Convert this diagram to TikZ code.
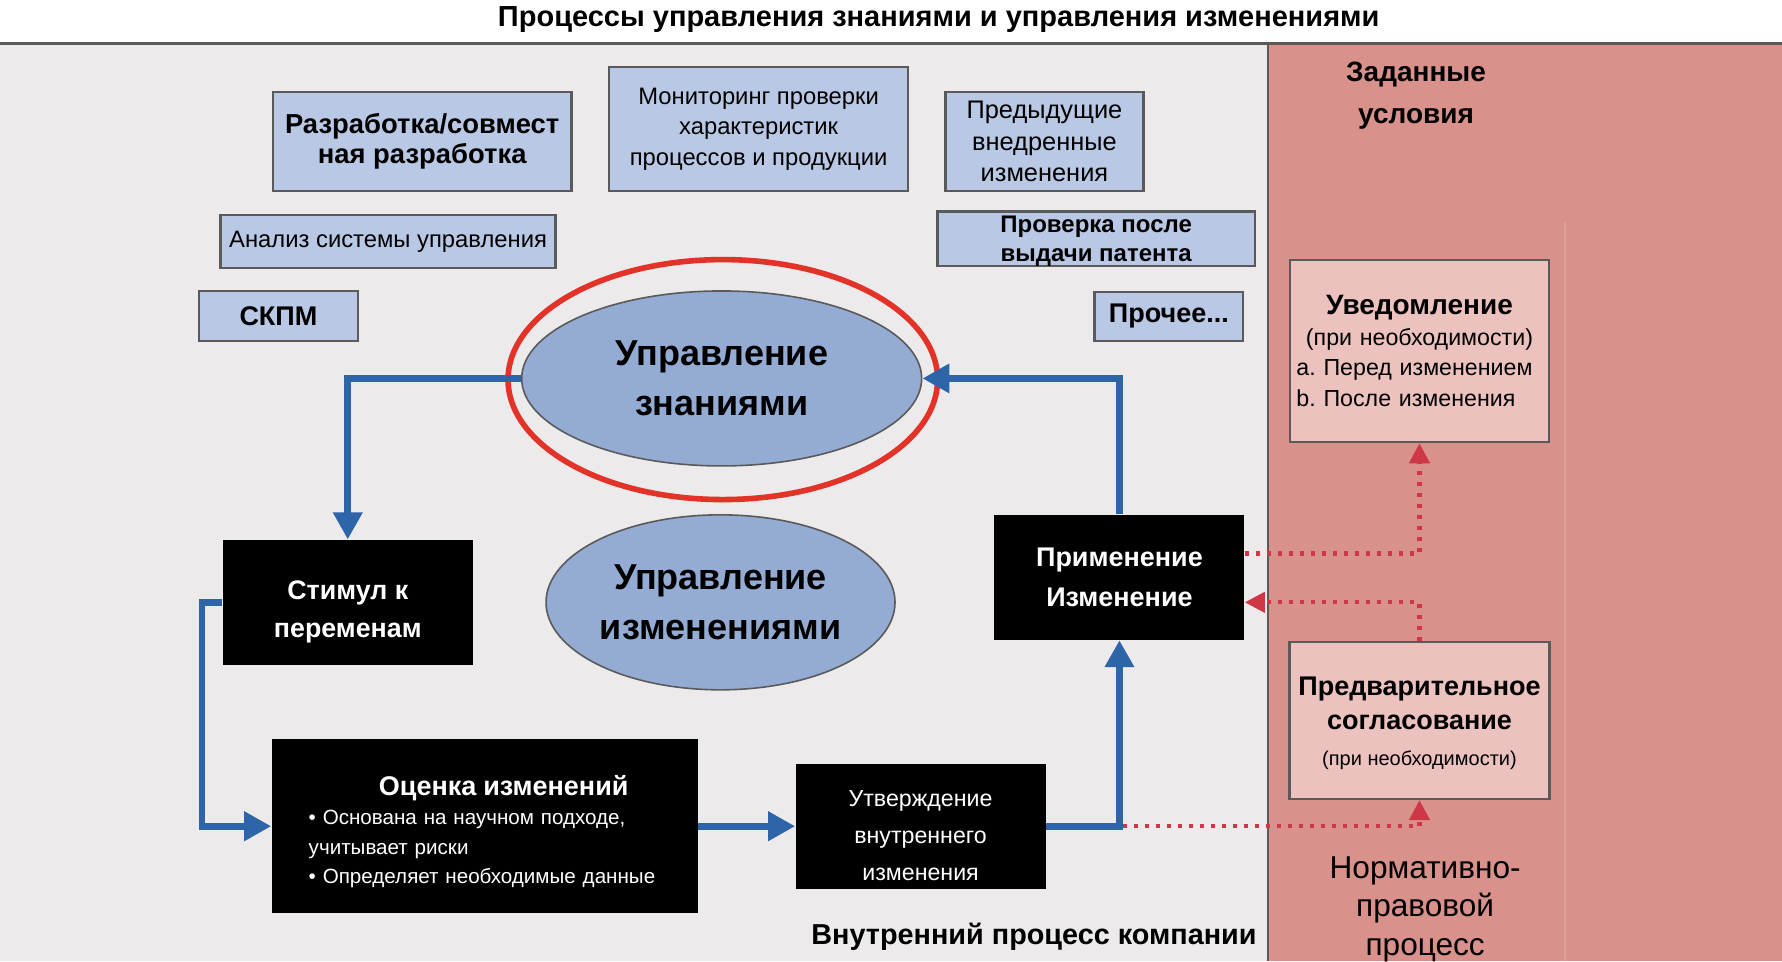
\documentclass[tikz,border=0pt]{standalone}
\usepackage{fontspec}
\setmainfont{Liberation Sans}
\usepackage{xcolor}
\usepackage{tikz}
\usetikzlibrary{shapes.geometric, arrows.meta, positioning, calc}
\definecolor{panelgrey}{RGB}{236,234,235}
\definecolor{panelpink}{RGB}{217,145,139}
\definecolor{boxblue}{RGB}{185,200,228}
\definecolor{ellblue}{RGB}{148,172,212}
\definecolor{flowblue}{RGB}{46,100,168}
\definecolor{ringred}{RGB}{227,50,40}
\definecolor{regpink}{RGB}{236,194,190}
\definecolor{regred}{RGB}{205,55,70}
\definecolor{edgegrey}{RGB}{90,90,90}
\newcommand{\setfs}[2]{\fontsize{#1}{#2}\selectfont}
\frenchspacing

\begin{document}
\begin{tikzpicture}[
  x=0.5683pt,y=-0.5683pt,
  infobox/.style={
    rectangle, draw=edgegrey, line width=1.2pt, fill=boxblue,
    inner sep=0pt, align=center
  },
  procbox/.style={rectangle, fill=black, text=white, inner sep=0pt, align=center,
    minimum width=125pt, minimum height=62.5pt},
  regbox/.style={rectangle, draw=edgegrey, line width=1.2pt, fill=regpink, inner sep=0pt},
  topic/.style={ellipse, draw=edgegrey, line width=0.8pt, fill=ellblue, inner sep=0pt,
    minimum height=87.5pt, align=center, font=\setfs{18}{25}\bfseries},
  flow/.style={-{Triangle[length=13.5pt,width=14pt]}, line width=3.4pt, draw=flowblue},
  regflow/.style={-{Triangle[length=10pt,width=10pt]}, line width=2.1pt, draw=regred,
    dash pattern=on 2.1pt off 3.4pt}
]
\useasboundingbox (0,0) rectangle (1568,846);

% ---- panels ----
\fill[panelgrey] (0,39) rectangle (1116,846);
\fill[panelpink] (1117,39) rectangle (1568,846);
\draw[panelpink!85!white, line width=0.6pt] (1377,195) -- (1377,846);
\draw[edgegrey, line width=1.6pt] (0,38) -- (1568,38);
\draw[edgegrey, line width=1pt] (1116,38) -- (1116,846);

% ---- headings ----
\node[font=\setfs{14.5}{17}\bfseries]                (title)    at (826,17)   {Процессы управления знаниями и управления изменениями};
\node[font=\setfs{14}{21}\bfseries, align=center]    (given)    at (1246,84)  {Заданные\\условия};
\node[font=\setfs{15.8}{19.3}, align=center]         (regproc)  at (1254,800) {Нормативно-\\правовой\\процесс};
\node[font=\setfs{14.4}{17}\bfseries, anchor=east, inner sep=0pt] (internal) at (1106,824) {Внутренний процесс компании};

% ---- knowledge sources ----
\node[infobox, minimum width=149.5pt, minimum height=49.4pt, font=\setfs{13.7}{15.3}\bfseries] (devel)   at (371.5,124.5) {Разработка/совмест\\ная разработка};
\node[infobox, minimum width=149.5pt, minimum height=61.9pt, font=\setfs{11.9}{15.3}]          (monitor) at (667.5,113.5) {Мониторинг проверки\\характеристик\\процессов и продукции};
\node[infobox, minimum width=98.9pt, minimum height=49.4pt, font=\setfs{12.7}{15.6}]           (prevchg) at (919,124.5)   {Предыдущие\\внедренные\\изменения};
\node[infobox, minimum width=167.6pt, minimum height=26.7pt, font=\setfs{11.9}{14}]            (mgmtrev) at (341.5,212.5) {Анализ системы управления};
\node[infobox, minimum width=158.6pt, minimum height=26.1pt, font=\setfs{12}{14.4}\bfseries]   (patent)  at (964.5,210)   {\rule{0pt}{10.5pt}Проверка после\\выдачи патента};
\node[infobox, minimum width=79.6pt, minimum height=25pt, font=\setfs{13.5}{15}\bfseries]      (skpm)    at (245,278)     {СКПМ};
\node[infobox, minimum width=74.4pt, minimum height=24.4pt, font=\setfs{13.5}{15}\bfseries]    (other)   at (1028.5,278.5){Прочее...};

% ---- management topics ----
\node[topic, minimum width=200pt]   (km)   at (635,333) {Управление\\знаниями};
\node[ellipse, draw=ringred, line width=2.8pt, inner sep=0pt,
      minimum width=214.8pt, minimum height=120pt] (ring) at (636,334) {};
\node[topic, minimum width=174.5pt] (cm)   at (634,530) {Управление\\изменениями};

% ---- internal process ----
\node[procbox, font=\setfs{13.4}{19.3}\bfseries] (stim) at (306,530) {\rule{0pt}{19pt}Стимул к\\переменам};
\node[procbox, minimum width=213.1pt, minimum height=86.9pt, text width=176pt, align=left,
      font=\setfs{10.3}{14.8}] (eval) at (426.5,727)
  {{\centering\hspace*{19pt}\setfs{13.5}{16.5}\bfseries\rule{0pt}{15.5pt}Оценка изменений\par}
   • Основана на научном подходе,\\учитывает риски\\• Определяет необходимые данные};
\node[procbox, font=\setfs{11.6}{18.5}]            (appr) at (810,727) {\rule{0pt}{17.5pt}Утверждение\\внутреннего\\изменения};
\node[procbox, font=\setfs{13.5}{20}\bfseries]    (impl) at (985,508) {Применение\\Изменение};

% ---- regulatory side ----
\node[regbox, minimum width=129.6pt, minimum height=90.9pt, text width=123pt, align=left,
      font=\setfs{11.6}{15.3}] (notify) at (1249,309)
  {{\centering\setfs{14}{15.3}\bfseries Уведомление\par}
   {\centering (при необходимости)\par}
   a. Перед изменением\\b. После изменения};
\node[regbox, minimum width=130.1pt, minimum height=78.4pt, align=center,
      font=\setfs{13.5}{17}\bfseries] (prior) at (1249,634)
  {\rule{0pt}{12pt}Предварительное\\согласование\\[1pt]{\mdseries\setfs{10}{12}(при необходимости)}};

% ---- regulatory links (dotted) ----
\coordinate (implout) at ($(impl.east)+(0,-21)$);
\coordinate (implin)  at ($(impl.east)+(0,22)$);
\draw[regflow] (implout) -| (notify.south);
\draw[regflow] (prior.north) |- (implin);
\draw[regflow] (appr.east) -| (prior.south);

% ---- change cycle ----
\draw[flow] (km.west) -| (stim.north);
\draw[flow] (stim.west) -- ++(-18,0) |- (eval.west);
\draw[flow] (eval) -- (appr);
\draw[flow] (appr.east) -| (impl.south);
\draw[flow] (impl.north) |- (km.east);

\end{tikzpicture}
\end{document}
